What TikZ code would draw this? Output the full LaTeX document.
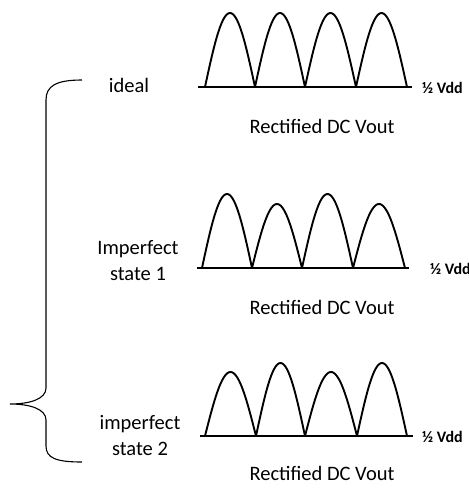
\documentclass[tikz,border=0pt]{standalone}
\usepackage{fontspec}
\setmainfont{Carlito}
\begin{document}
\begin{tikzpicture}[x=1pt,y=-1pt,
  hump/.style={line width=1.9pt},
  base/.style={line width=2.3pt},
  lbl/.style={font=\fontsize{20.5}{26}\selectfont, align=center, inner sep=0pt},
  vdd/.style={font=\bfseries\fontsize{16}{18}\selectfont, anchor=west, inner sep=0pt},
  brace/.style={line width=1.1pt}]
\useasboundingbox (0,0) rectangle (469,491);
% ---- graph 1 (ideal)
\coordinate (b1l) at (198,87); \coordinate (b1r) at (412,87);
\draw[base] (b1l) -- (b1r);
\foreach \a/\w/\h in {205/50/74, 255/50/74, 305/51/74, 356/51/74}
  \draw[hump] plot[domain=0:180, samples=40] ({\a+\x/180*\w},{87-\h*sin(\x)});
\node[vdd] (v1) at (422,88) {½ Vdd};
\node[lbl] (t1) at (129,85) {ideal};
\node[lbl, anchor=base] (r1) at (322,133) {Rectified DC Vout};
% ---- graph 2
\coordinate (b2l) at (197,268); \coordinate (b2r) at (409,268);
\draw[base] (b2l) -- (b2r);
\foreach \a/\w/\h in {202/50/74, 252/50/64, 302/51/74, 353/52/64}
  \draw[hump] plot[domain=0:180, samples=40] ({\a+\x/180*\w},{268-\h*sin(\x)});
\node[vdd] (v2) at (430,269) {½ Vdd};
\node[lbl] (t2) at (138,261) {Imperfect\\state 1};
\node[lbl, anchor=base] (r2) at (322,314) {Rectified DC Vout};
% ---- graph 3
\coordinate (b3l) at (200,436); \coordinate (b3r) at (413,436);
\draw[base] (b3l) -- (b3r);
\foreach \a/\w/\h in {205/51/64, 256/49/73, 305/52/64, 357/50/73}
  \draw[hump] plot[domain=0:180, samples=40] ({\a+\x/180*\w},{436-\h*sin(\x)});
\node[vdd] (v3) at (422,437) {½ Vdd};
\node[lbl] (t3) at (140,436) {imperfect\\state 2};
\node[lbl, anchor=base] (r3) at (322,480) {Rectified DC Vout};
% ---- brace
\coordinate (bt) at (82,80);
\coordinate (bm) at (10,404);
\coordinate (bb) at (82,462);
\draw[brace] (bt) .. controls (56,80) and (46,86) .. (46,100)
  -- (46,388) .. controls (46,399) and (30,404) .. (bm)
  .. controls (30,404) and (46,409) .. (46,420)
  -- (46,446) .. controls (46,458) and (56,462) .. (bb);
\end{tikzpicture}
\end{document}
